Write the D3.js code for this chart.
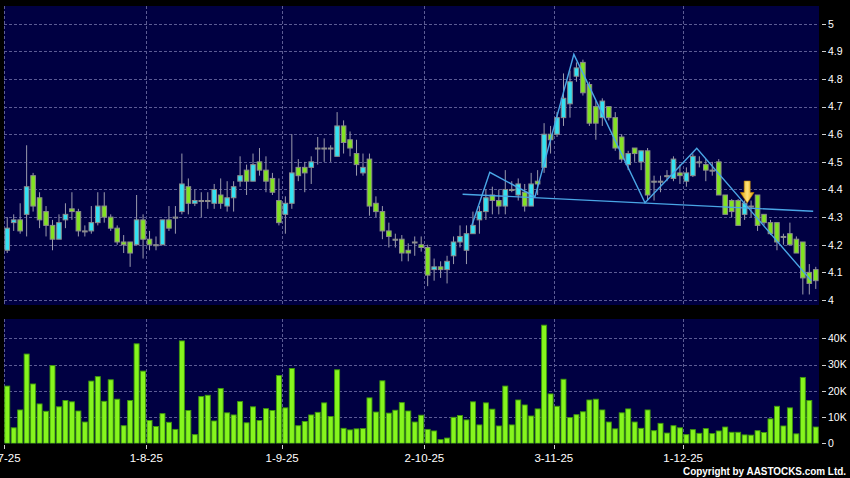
<!DOCTYPE html>
<html><head><meta charset="utf-8">
<script src="https://cdn.jsdelivr.net/npm/d3@7"></script>
<style>html,body{margin:0;padding:0;background:#000;} svg{display:block;}</style>
</head><body>
<svg id="c" width="850" height="478"></svg>
<script>
// ---- data (index 0 = 2-7-25, one entry per trading day) ----
const open  = [4.18,4.28,4.29,4.31,4.45,4.37,4.32,4.27,4.22,4.29,4.33,4.32,4.25,4.25,4.28,4.34,4.30,4.26,4.21,4.21,
               4.20,4.29,4.22,4.20,4.20,4.29,4.30,4.32,4.41,4.35,4.36,4.36,4.35,4.38,4.34,4.37,4.43,4.47,4.43,4.50,
               4.47,4.44,4.36,4.31,4.35,4.48,4.48,4.48,4.55,4.55,4.55,4.52,4.63,4.58,4.53,4.46,4.51,4.35,4.32,4.25,
               4.22,4.22,4.18,4.21,4.20,4.19,4.11,4.12,4.11,4.16,4.21,4.18,4.24,4.29,4.32,4.38,4.36,4.34,4.40,4.38,
               4.39,4.34,4.43,4.48,4.60,4.60,4.66,4.71,4.81,4.86,4.78,4.70,4.66,4.70,4.66,4.59,4.49,4.55,4.50,4.54,
               4.43,4.43,4.45,4.44,4.46,4.43,4.45,4.50,4.49,4.47,4.50,4.38,4.36,4.36,4.31,4.34,4.38,4.31,4.28,4.28,
               4.23,4.24,4.22,4.21,4.10,4.11];
const high  = [4.30,4.31,4.35,4.56,4.46,4.39,4.34,4.29,4.31,4.35,4.39,4.33,4.27,4.34,4.39,4.39,4.31,4.27,4.235,4.21,
               4.38,4.31,4.25,4.23,4.29,4.34,4.34,4.53,4.44,4.40,4.39,4.39,4.42,4.44,4.43,4.43,4.52,4.49,4.53,4.55,
               4.52,4.46,4.44,4.375,4.60,4.51,4.50,4.52,4.59,4.585,4.56,4.68,4.65,4.61,4.58,4.53,4.53,4.375,4.34,4.28,
               4.24,4.235,4.205,4.23,4.23,4.20,4.15,4.14,4.16,4.23,4.27,4.27,4.32,4.34,4.40,4.41,4.40,4.47,4.43,4.44,
               4.42,4.46,4.47,4.64,4.63,4.68,4.82,4.83,4.86,4.87,4.79,4.72,4.73,4.70,4.68,4.60,4.54,4.55,4.54,4.55,
               4.45,4.45,4.47,4.52,4.49,4.48,4.53,4.52,4.51,4.50,4.51,4.38,4.365,4.365,4.36,4.36,4.38,4.31,4.29,4.28,
               4.24,4.28,4.23,4.21,4.13,4.12];
const low   = [4.17,4.25,4.24,4.23,4.32,4.26,4.23,4.18,4.22,4.26,4.29,4.23,4.23,4.24,4.27,4.28,4.25,4.20,4.17,4.12,
               4.20,4.15,4.18,4.18,4.20,4.25,4.24,4.31,4.31,4.34,4.30,4.33,4.33,4.33,4.32,4.32,4.41,4.38,4.43,4.45,
               4.39,4.38,4.27,4.24,4.33,4.43,4.39,4.42,4.49,4.50,4.50,4.52,4.53,4.52,4.45,4.45,4.305,4.30,4.22,4.19,
               4.19,4.14,4.14,4.16,4.175,4.05,4.07,4.08,4.06,4.13,4.19,4.13,4.24,4.24,4.29,4.31,4.31,4.31,4.39,4.36,
               4.32,4.34,4.38,4.46,4.53,4.59,4.63,4.66,4.79,4.74,4.63,4.58,4.63,4.65,4.54,4.50,4.47,4.50,4.47,4.36,
               4.36,4.39,4.43,4.43,4.42,4.41,4.445,4.48,4.43,4.45,4.38,4.31,4.30,4.27,4.29,4.30,4.25,4.27,4.235,4.18,
               4.20,4.20,4.17,4.02,4.02,4.04];
const close = [4.26,4.29,4.25,4.41,4.34,4.29,4.27,4.22,4.28,4.31,4.32,4.25,4.25,4.28,4.34,4.30,4.26,4.21,4.20,4.17,
               4.29,4.22,4.20,4.20,4.29,4.26,4.30,4.42,4.35,4.36,4.36,4.36,4.40,4.35,4.37,4.41,4.45,4.43,4.49,4.47,
               4.43,4.39,4.28,4.35,4.46,4.45,4.46,4.50,4.55,4.55,4.55,4.63,4.57,4.55,4.49,4.48,4.34,4.32,4.25,4.23,
               4.22,4.17,4.17,4.21,4.19,4.09,4.12,4.11,4.14,4.21,4.23,4.24,4.27,4.32,4.37,4.36,4.34,4.40,4.40,4.42,
               4.34,4.42,4.42,4.60,4.58,4.66,4.73,4.79,4.84,4.75,4.64,4.64,4.72,4.66,4.55,4.51,4.53,4.53,4.54,4.38,
               4.43,4.43,4.45,4.51,4.45,4.46,4.52,4.50,4.47,4.47,4.38,4.31,4.32,4.27,4.35,4.34,4.27,4.28,4.24,4.21,
               4.23,4.20,4.17,4.08,4.06,4.07];
const volume = [21.8,5.9,12.7,34,22.6,15,12.2,29.6,13.9,16.3,15.8,12.3,8.1,23.7,25.4,16,24.2,16.8,6.7,16.3,
                37.9,27.5,8.7,6.4,11.3,8,5.3,39,12.5,3.3,17.8,18.3,8.5,20.9,11.6,10.8,15.9,7.8,13.9,8.7,
                13.2,12.5,25.8,13.5,28.5,6.7,8.3,10.8,11.8,15.4,10.2,28,5.7,5.1,5.5,5.6,17.3,11.9,23.8,11.5,
                12.6,15.5,12.3,8.1,10.7,5.3,4.7,1.4,2,9.9,10.6,8.9,15.8,7,15.4,13,6.6,21.8,7,16.5,
                14.6,10.4,13.1,45,18.8,14.1,24.4,9.8,10.9,12,16.5,16.8,12.7,8.1,5.5,11.6,13.1,8.1,5.7,12.7,
                4.8,7.6,3.9,6.7,5.9,3.3,5.2,3.8,5.6,3.7,4.7,6.2,4.2,4.2,3.2,3.1,4.8,4.1,9.3,14.1,
                6.6,13.5,3.6,25.1,16.3,6.2]; // thousands
const xTickLabels = ["2-7-25","1-8-25","1-9-25","2-10-25","3-11-25","1-12-25"];
const xTickIndex  = [0,22,43,65,85,105];
const priceTicks  = [4,4.1,4.2,4.3,4.4,4.5,4.6,4.7,4.8,4.9,5];
const priceTickLabels = ["4","4.1","4.2","4.3","4.4","4.5","4.6","4.7","4.8","4.9","5"];
const volTicks = [0,10,20,30,40];
const volTickLabels = ["0","10K","20K","30K","40K"];
const zigzagIdx   = [71.8,74.6,81.6,87.6,98.6,106.6,124.3];
const zigzagPrice = [4.268,4.462,4.374,4.889,4.352,4.549,4.070];
const necklineIdx   = [70.4,124.6];
const necklinePrice = [4.383,4.321];
const arrowIdx = 114.4, arrowPrice = 4.351;

// ---- layout ----
const L = 4, R = 819, pTop = 6, pBot = 305, vTop = 319, vBot = 443.5;
const svg = d3.select("#c");
svg.append("rect").attr("width",850).attr("height",478).attr("fill","#000");

const x  = d3.scaleLinear().domain([-0.5, open.length - 0.5]).range([L, R]);
const y  = d3.scaleLinear().domain([4, 5]).range([300, 23.7]);
const yv = d3.scaleLinear().domain([0, 40]).range([vBot - 0.2, 338.3]);
const step = x(1) - x(0);

const defs = svg.append("defs");
defs.append("clipPath").attr("id","cp").append("rect").attr("x",L).attr("y",pTop).attr("width",R-L).attr("height",pBot-pTop);
defs.append("clipPath").attr("id","cv").append("rect").attr("x",L).attr("y",vTop).attr("width",R-L).attr("height",vBot-vTop);
const g = defs.append("linearGradient").attr("id","arrowGrad").attr("x1","0").attr("x2","1").attr("y1","0").attr("y2","0");
g.append("stop").attr("offset","0").attr("stop-color","#e0a000");
g.append("stop").attr("offset","0.5").attr("stop-color","#ffe27a");
g.append("stop").attr("offset","1").attr("stop-color","#e0a000");

// panels
svg.append("rect").attr("x",L).attr("y",pTop).attr("width",R-L).attr("height",pBot-pTop).attr("fill","#000042");
svg.append("rect").attr("x",L).attr("y",vTop).attr("width",R-L).attr("height",vBot-vTop).attr("fill","#000042");

const gridColor = "#5c5c94";
const grid = svg.append("g").attr("stroke",gridColor).attr("stroke-width",1).attr("stroke-dasharray","3,2").attr("fill","none");
grid.selectAll("line.hp").data(priceTicks).join("line")
  .attr("x1",L).attr("x2",R).attr("y1",d=>Math.round(y(d))+0.5).attr("y2",d=>Math.round(y(d))+0.5);
grid.selectAll("line.hv").data(volTicks.filter(d=>d>0)).join("line").attr("class","hv")
  .attr("x1",L).attr("x2",R).attr("y1",d=>Math.round(yv(d))+0.5).attr("y2",d=>Math.round(yv(d))+0.5);
const vx = i => Math.round(x(i) - step/2) + 0.5;
grid.selectAll("line.vp").data(xTickIndex).join("line").attr("class","vp")
  .attr("x1",vx).attr("x2",vx).attr("y1",pTop).attr("y2",pBot);
grid.selectAll("line.vv").data(xTickIndex).join("line").attr("class","vv")
  .attr("x1",vx).attr("x2",vx).attr("y1",vTop).attr("y2",vBot);

const data = d3.range(open.length).map(i => ({i, o:open[i], h:high[i], l:low[i], c:close[i], v:volume[i]}));

// volume bars
const bw = 5;
svg.append("g").attr("clip-path","url(#cv)").selectAll("rect").data(data).join("rect")
  .attr("x", d => x(d.i) - bw/2).attr("width", bw)
  .attr("y", d => yv(d.v)).attr("height", d => yv(0) - yv(d.v))
  .attr("fill","#86f51e").attr("stroke","#3f9a0c").attr("stroke-width",0.9);

// candles
const cg = svg.append("g").attr("clip-path","url(#cp)");
cg.selectAll("line.wick").data(data).join("line").attr("class","wick")
  .attr("x1", d => x(d.i)).attr("x2", d => x(d.i))
  .attr("y1", d => y(d.h)).attr("y2", d => y(d.l))
  .attr("stroke","#9a9aac").attr("stroke-width",1);
const cw = 4.6;
cg.selectAll("rect.body").data(data).join("rect").attr("class","body")
  .attr("x", d => x(d.i) - cw/2).attr("width", cw)
  .attr("y", d => y(Math.max(d.o,d.c)))
  .attr("height", d => Math.max(1, Math.abs(y(d.o) - y(d.c))))
  .attr("fill", d => Math.abs(d.c-d.o) < 0.004 ? "#9cc8d8" : (d.c > d.o ? "#33e2f2" : "#82e222"))
  .attr("stroke", "#8c8c8c").attr("stroke-width", 1);

// trend lines
const line = d3.line().x(d => x(d[0])).y(d => y(d[1]));
cg.append("path").datum(necklineIdx.map((d,k)=>[d,necklinePrice[k]]))
  .attr("d", line).attr("fill","none").attr("stroke","#4aa6e6").attr("stroke-width",1.4);
cg.append("path").datum(zigzagIdx.map((d,k)=>[d,zigzagPrice[k]]))
  .attr("d", line).attr("fill","none").attr("stroke","#4aa6e6").attr("stroke-width",1.4);

// arrow marker (tip at given price)
const ax = x(arrowIdx), ay = y(arrowPrice);
svg.append("path")
  .attr("d", `M${ax-3},${ay-22} L${ax+3},${ay-22} L${ax+3},${ay-10.5} L${ax+6.8},${ay-10.5} L${ax},${ay} L${ax-6.8},${ay-10.5} L${ax-3},${ay-10.5} Z`)
  .attr("fill","url(#arrowGrad)").attr("stroke","#c88a00").attr("stroke-width",0.6);

// right axis
const txt = svg.append("g").attr("fill","#fff").attr("font-family","'Liberation Sans', Arial, sans-serif");
const ra = svg.append("g").attr("stroke","#d0d0d0").attr("stroke-width",1);
ra.selectAll("line.pt").data(priceTicks).join("line").attr("class","pt")
  .attr("x1",822).attr("x2",826).attr("y1",d=>Math.round(y(d))+0.5).attr("y2",d=>Math.round(y(d))+0.5);
txt.selectAll("text.pl").data(priceTicks).join("text").attr("class","pl")
  .attr("x",828).attr("y",d=>y(d)+3.8).attr("font-size",10.5)
  .text((d,k)=>priceTickLabels[k]);
ra.selectAll("line.vt").data(volTicks).join("line").attr("class","vt")
  .attr("x1",822).attr("x2",826).attr("y1",d=>Math.round(yv(d))+0.5).attr("y2",d=>Math.round(yv(d))+0.5);
txt.selectAll("text.vl").data(volTicks).join("text").attr("class","vl")
  .attr("x",828).attr("y",d=>yv(d)+3.8).attr("font-size",10.5)
  .text((d,k)=>volTickLabels[k]);

// bottom axis
ra.selectAll("line.xt").data(xTickIndex).join("line").attr("class","xt")
  .attr("x1",vx).attr("x2",vx).attr("y1",445).attr("y2",449);
txt.selectAll("text.xl").data(xTickIndex).join("text").attr("class","xl")
  .attr("x",d=>x(d)-step/2).attr("y",461.5).attr("font-size",11.5).attr("text-anchor","middle")
  .text((d,k)=>xTickLabels[k]);

// copyright
txt.append("text").attr("x",846).attr("y",474.5).attr("text-anchor","end")
  .attr("font-size",10).attr("font-weight","bold")
  .attr("textLength",163).attr("lengthAdjust","spacingAndGlyphs")
  .text("Copyright by AASTOCKS.com Ltd.");
</script>
</body></html>
